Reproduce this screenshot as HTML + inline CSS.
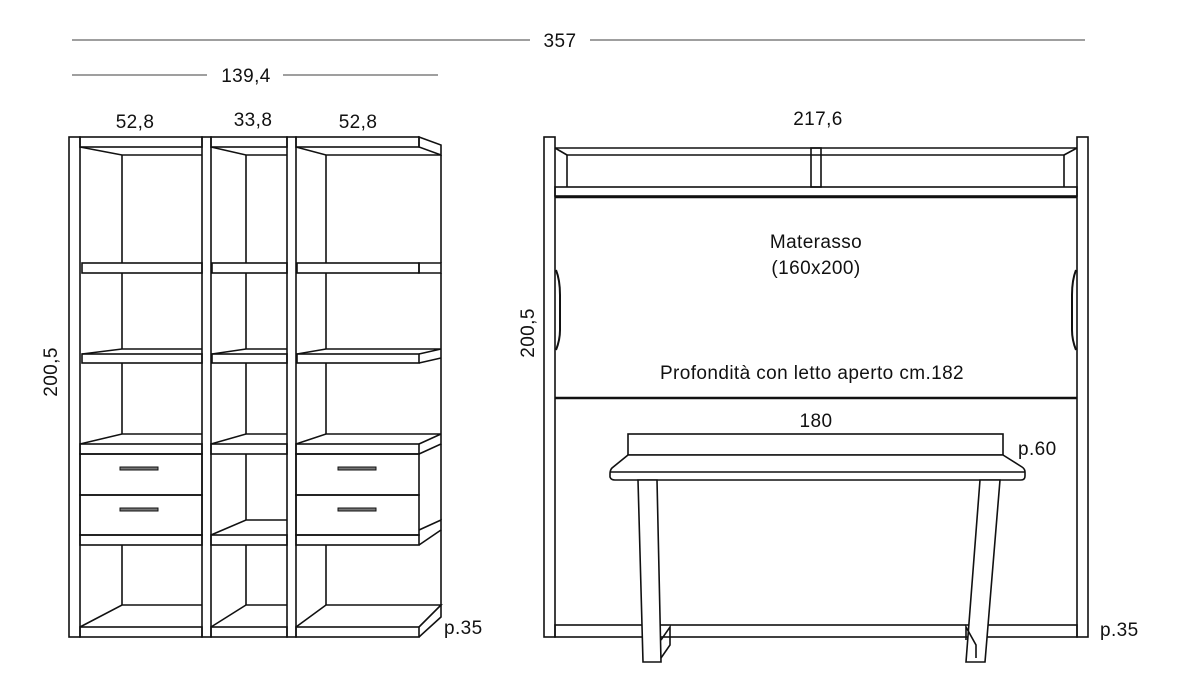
<!DOCTYPE html>
<html><head><meta charset="utf-8"><style>
html,body{margin:0;padding:0;background:#fff;}
svg{display:block;}
text{font-family:"Liberation Sans",sans-serif;font-size:19px;letter-spacing:0.4px;fill:#111;}
</style></head><body>
<svg width="1200" height="675" viewBox="0 0 1200 675" xmlns="http://www.w3.org/2000/svg">
<g stroke="#666" stroke-width="1.2">
<line x1="72" y1="40" x2="530" y2="40"/><line x1="590" y1="40" x2="1085" y2="40"/>
<line x1="72" y1="75" x2="207" y2="75"/><line x1="283" y1="75" x2="438" y2="75"/>
</g>
<text x="560" y="47" text-anchor="middle">357</text>
<text x="246" y="82" text-anchor="middle">139,4</text>
<text x="135" y="128" text-anchor="middle">52,8</text>
<text x="253" y="126" text-anchor="middle">33,8</text>
<text x="358" y="128" text-anchor="middle">52,8</text>
<text x="818" y="125" text-anchor="middle">217,6</text>
<text transform="translate(57,372) rotate(-90)" text-anchor="middle">200,5</text>
<text transform="translate(534,333) rotate(-90)" text-anchor="middle">200,5</text>
<text x="444" y="634">p.35</text>
<text x="1100" y="636">p.35</text>
<text x="1018" y="455">p.60</text>
<text x="816" y="427" text-anchor="middle">180</text>
<text x="816" y="248" text-anchor="middle">Materasso</text>
<text x="816" y="274" text-anchor="middle">(160x200)</text>
<text x="812" y="379" text-anchor="middle">Profondità con letto aperto cm.182</text>

<g fill="none" stroke="#111" stroke-width="1.6">
<rect x="69" y="137" width="11" height="500"/>
<rect x="202" y="137" width="9" height="500"/>
<rect x="287" y="137" width="9" height="500"/>
<rect x="80" y="137" width="122" height="10"/>
<polyline points="80,147 122,155 202,155"/>
<line x1="122" y1="155" x2="122" y2="263"/>
<rect x="82" y="263" width="120" height="10"/>
<line x1="122" y1="273" x2="122" y2="349"/>
<polyline points="82,354 122,349 202,349"/>
<rect x="82" y="354" width="120" height="9"/>
<line x1="122" y1="363" x2="122" y2="434"/>
<polyline points="80,444 122,434 202,434"/>
<rect x="80" y="444" width="122" height="10"/>
<rect x="80" y="454" width="122" height="41"/>
<rect x="80" y="495" width="122" height="40"/>
<rect x="80" y="535" width="122" height="10"/>
<line x1="122" y1="545" x2="122" y2="605"/>
<polyline points="80,627 122,605 202,605"/>
<rect x="80" y="627" width="122" height="10"/>
<rect x="211" y="137" width="76" height="10"/>
<polyline points="211,147 246,155 287,155"/>
<line x1="246" y1="155" x2="246" y2="263"/>
<rect x="212" y="263" width="75" height="10"/>
<line x1="246" y1="273" x2="246" y2="349"/>
<polyline points="212,354 246,349 287,349"/>
<rect x="212" y="354" width="75" height="9"/>
<line x1="246" y1="363" x2="246" y2="434"/>
<polyline points="211,444 246,434 287,434"/>
<rect x="211" y="444" width="76" height="10"/>
<line x1="246" y1="454" x2="246" y2="520"/>
<polyline points="211,535 246,520 287,520"/>
<rect x="211" y="535" width="76" height="10"/>
<line x1="246" y1="545" x2="246" y2="605"/>
<polyline points="211,627 246,605 287,605"/>
<rect x="211" y="627" width="76" height="10"/>
<rect x="296" y="137" width="123" height="10"/>
<polygon points="419,137 441,145 441,155 419,147"/>
<polyline points="296,147 326,155 441,155"/>
<line x1="441" y1="155" x2="441" y2="263"/>
<line x1="326" y1="155" x2="326" y2="263"/>
<rect x="297" y="263" width="122" height="10"/>
<polygon points="419,263 441,263 441,273 419,273"/>
<line x1="326" y1="273" x2="326" y2="349"/>
<line x1="441" y1="273" x2="441" y2="349"/>
<polyline points="297,354 326,349 441,349 419,354"/>
<rect x="297" y="354" width="122" height="9"/>
<line x1="419" y1="363" x2="441" y2="358"/><line x1="441" y1="349" x2="441" y2="358"/>
<line x1="326" y1="363" x2="326" y2="434"/>
<line x1="441" y1="358" x2="441" y2="434"/>
<polyline points="296,444 326,434 441,434 419,444"/>
<rect x="296" y="444" width="123" height="10"/>
<polyline points="419,454 441,444 441,434"/>
<rect x="296" y="454" width="123" height="41"/>
<rect x="296" y="495" width="123" height="40"/>
<line x1="441" y1="444" x2="441" y2="520"/>
<polyline points="419,530 441,520 441,530 419,545"/>
<rect x="296" y="535" width="123" height="10"/>
<line x1="326" y1="545" x2="326" y2="605"/>
<line x1="441" y1="530" x2="441" y2="605"/>
<polyline points="296,627 326,605 441,605 419,627"/>
<rect x="296" y="627" width="123" height="10"/>
<polyline points="419,637 441,617 441,605"/>
</g>
<g fill="#777" stroke="#111" stroke-width="1">
<rect x="120" y="467" width="38" height="3"/>
<rect x="120" y="508" width="38" height="3"/>
<rect x="338" y="467" width="38" height="3"/>
<rect x="338" y="508" width="38" height="3"/>
</g>

<g fill="none" stroke="#111" stroke-width="1.6">
<rect x="544" y="137" width="11" height="500"/>
<rect x="1077" y="137" width="11" height="500"/>
<line x1="555" y1="148" x2="1077" y2="148"/>
<line x1="555" y1="148" x2="567" y2="155"/><line x1="1077" y1="148" x2="1064" y2="155"/>
<line x1="567" y1="155" x2="1064" y2="155"/>
<line x1="567" y1="155" x2="567" y2="187"/><line x1="1064" y1="155" x2="1064" y2="187"/>
<rect x="811" y="148" width="10" height="39"/>
<rect x="555" y="187" width="522" height="9"/>
<line x1="555" y1="197" x2="1077" y2="197" stroke-width="2.5"/>
<line x1="555" y1="398" x2="1077" y2="398" stroke-width="2.5"/>
<path d="M556,270 q4,10 4,25 v35 q0,10 -4,20" stroke-width="2"/>
<path d="M1076,270 q-4,10 -4,25 v35 q0,10 4,20" stroke-width="2"/>
<rect x="555" y="625" width="522" height="12"/>
<rect x="628" y="434" width="375" height="21" fill="#fff"/>
<path d="M628,455 L612,468 Q610,470 610,474 L610,477 Q611,480 615,480 L1021,480 Q1025,480 1025,476 L1025,472 Q1025,469 1022,467 L1003,455 Z" fill="#fff"/>
<line x1="610" y1="472" x2="1025" y2="472"/>
<polygon points="638,480 657,480 661,662 643,662" fill="#fff"/>
<polygon points="980,480 1000,480 985,662 966,662" fill="#fff"/>
<polyline points="661,640 670,627 670,645 661,658"/>
<polyline points="966,640 966,627 976,645 976,658"/>
</g>
</svg>
</body></html>
